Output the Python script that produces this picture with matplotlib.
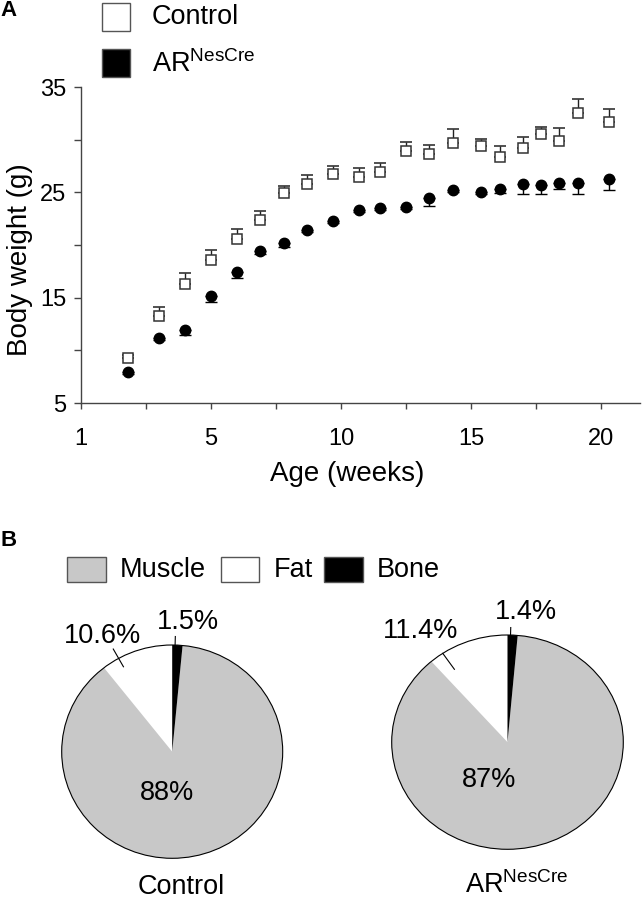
import matplotlib
matplotlib.use('Agg')
import matplotlib.pyplot as plt
import numpy as np
from matplotlib.patches import Rectangle, Ellipse

plt.rcParams['font.family'] = ['Liberation Sans', 'DejaVu Sans']
plt.rcParams['mathtext.fontset'] = 'custom'
plt.rcParams['mathtext.rm'] = 'Liberation Sans'
plt.rcParams['mathtext.it'] = 'Liberation Sans:italic'
plt.rcParams['mathtext.bf'] = 'Liberation Sans:bold'

# ---------------- data ----------------
weeks = [1.8, 3.0, 4.0, 5.0, 6.0, 6.9, 7.8, 8.7, 9.7, 10.7, 11.5,
         12.5, 13.4, 14.3, 15.4, 16.1, 17.0, 17.7, 18.4, 19.1, 20.3]
control_wt = [9.3, 13.3, 16.3, 18.6, 20.6, 22.4, 24.9, 25.8, 26.7, 26.45, 26.9,
              28.9, 28.6, 29.7, 29.4, 28.35, 29.2, 30.5, 29.9, 32.5, 31.7]
control_sem = [0.3, 0.8, 1.0, 0.9, 0.9, 0.8, 0.73, 0.8, 0.76, 0.9, 0.9,
               0.92, 0.89, 1.36, 0.63, 1.04, 1.08, 0.66, 1.2, 1.36, 1.2]
ar_wt = [7.97, 11.2, 11.96, 15.15, 17.43, 19.46, 20.22, 21.42, 22.31, 23.32, 23.51,
         23.58, 24.46, 25.19, 25.03, 25.29, 25.83, 25.66, 25.92, 25.92, 26.23]
ar_sem = [0.2, 0.2, 0.54, 0.6, 0.54, 0.3, 0.41, 0.2, 0.2, 0.2, 0.2,
          0.2, 0.73, 0.2, 0.2, 0.32, 0.95, 0.8, 0.57, 1.05, 1.05]

xtick_pos = [0, 5, 10, 15, 20]
xtick_labels = ['1', '5', '10', '15', '20']
ytick_pos = [5, 15, 25, 35]

tissues = ['Muscle', 'Fat', 'Bone']
tissue_colors = ['#c8c8c8', 'white', 'black']
control_comp = [88, 10.6, 1.5]      # Muscle, Fat, Bone (%)
ar_comp = [87, 11.4, 1.4]
control_labels = ['88%', '10.6%', '1.5%']
ar_labels = ['87%', '11.4%', '1.4%']

# ---------------- figure ----------------
W, H = 642, 900
fig = plt.figure(figsize=(W / 100, H / 100), dpi=100)
fig.patch.set_facecolor('white')


def fx(x):
    return x / W


def fy(y):
    return 1 - y / H


def box(x0, y0, x1, y1):
    return [fx(x0), fy(y1), fx(x1) - fx(x0), fy(y0) - fy(y1)]


# ---------------- panel A ----------------
AX0, AX1, AY0, AY1 = 80.7, 640, 87, 403
axA = fig.add_axes(box(AX0, AY0, AX1, AY1))
zeros = np.zeros(len(weeks))
axA.errorbar(weeks, control_wt, yerr=[zeros, control_sem], fmt='s', ms=6.5,
             mfc='white', mec='#333333', mew=1.1, ecolor='#222222', elinewidth=1.0,
             capsize=4, capthick=1.0, zorder=3)
axA.errorbar(weeks, ar_wt, yerr=[ar_sem, zeros], fmt='o', ms=7.5,
             mfc='black', mec='black', ecolor='black', elinewidth=1.0,
             capsize=4, capthick=1.0, zorder=3)
axA.set_xlim(0, (AX1 - AX0) / 26.02)
axA.set_ylim(5, 35)
for s in ['top', 'right']:
    axA.spines[s].set_visible(False)
for s in ['left', 'bottom']:
    axA.spines[s].set_color('#444444')
    axA.spines[s].set_linewidth(1.0)
axA.set_xticks(xtick_pos)
axA.set_xticklabels(xtick_labels)
axA.set_xticks([2.5, 7.5, 12.5, 17.5], minor=True)
axA.set_yticks(ytick_pos)
axA.set_yticks([10, 20, 30], minor=True)
axA.tick_params(which='both', direction='out', width=1, color='#444444')
axA.tick_params(axis='y', which='both', length=5)
axA.tick_params(axis='x', which='both', length=4.3)
axA.tick_params(axis='y', labelsize=17, pad=5.5)
axA.tick_params(axis='x', labelsize=17, pad=13.5)
axA.set_xlabel('Age (weeks)', fontsize=20)
axA.set_ylabel('Body weight (g)', fontsize=20)
axA.xaxis.set_label_coords((346.7 - AX0) / (AX1 - AX0), (AY1 - 461) / (AY1 - AY0))
axA.yaxis.set_label_coords((33 - AX0) / (AX1 - AX0), (AY1 - 260) / (AY1 - AY0))

fig.text(fx(0), fy(10), 'A', fontsize=16, fontweight='bold', ha='left', va='center')

# legend A
for (y0, fc, lab) in [(2.7, 'white', 'Control'), (49.3, 'black', r'AR$^{\mathrm{NesCre}}$')]:
    fig.add_artist(Rectangle((fx(101.7), fy(y0 + 28)), fx(28.3), 28 / H,
                             transform=fig.transFigure, fc=fc, ec='#555555', lw=1.0))
    fig.text(fx(151.7), fy(y0 + 14.5), lab, fontsize=19.5, ha='left', va='center')

# ---------------- panel B ----------------
fig.text(fx(1), fy(541), 'B', fontsize=16, fontweight='bold', ha='left', va='center')

leg_boxes = [(66.7, 106), (220.7, 259.3), (324, 363)]
leg_text_x = [119.3, 274, 376.7]
for (x0, x1), tx, name, col in zip(leg_boxes, leg_text_x, tissues, tissue_colors):
    fig.add_artist(Rectangle((fx(x0), fy(582.3)), fx(x1) - fx(x0), 25 / H,
                             transform=fig.transFigure, fc=col, ec='#555555', lw=1.0))
    fig.text(fx(tx), fy(570), name, fontsize=19.5, ha='left', va='center')


def draw_pie(bbox, comp, labels, lab_pos, fat_leader, bone_leader, title, title_xy):
    ax = fig.add_axes(bbox)
    # order counter-clockwise from top: Fat, Muscle, Bone
    vals = [comp[1], comp[0], comp[2]]
    cols = [tissue_colors[1], tissue_colors[0], tissue_colors[2]]
    ax.pie(vals, colors=cols, startangle=90, counterclock=True,
           wedgeprops=dict(linewidth=0))
    ax.set_aspect('auto')
    ax.set_xlim(-1, 1)
    ax.set_ylim(-1, 1)
    ax.add_patch(Ellipse((0, 0), 2, 2, fill=False, ec='black', lw=0.8, clip_on=False))
    for (ang, r0, r1) in [fat_leader, bone_leader]:
        a = np.deg2rad(ang)
        ax.plot([r0 * np.cos(a), r1 * np.cos(a)], [r0 * np.sin(a), r1 * np.sin(a)],
                color='black', lw=0.8, clip_on=False)
    for lab, (x, y) in zip(labels, lab_pos):
        ax.text(x, y, lab, fontsize=19.5, ha='center', va='center', clip_on=False)
    fig.text(fx(title_xy[0]), fy(title_xy[1]), title, fontsize=19.5, ha='center', va='center')
    ax.axis('off')


draw_pie(box(61.7, 645, 282.7, 858.3), control_comp, control_labels,
         [(-0.05, -0.39), (-0.63, 1.08), (0.14, 1.22)],
         (119, 0.91, 1.10), (88.5, 1.0, 1.08), 'Control', (181, 887))
draw_pie(box(391.7, 635, 623.3, 849.3), ar_comp, ar_labels,
         [(-0.155, -0.35), (-0.75, 1.04), (0.155, 1.21)],
         (124, 0.82, 1.0), (88.5, 1.0, 1.07), r'AR$^{\mathrm{NesCre}}$', (516.7, 885))

fig.savefig('out.png', dpi=100, facecolor='white')
